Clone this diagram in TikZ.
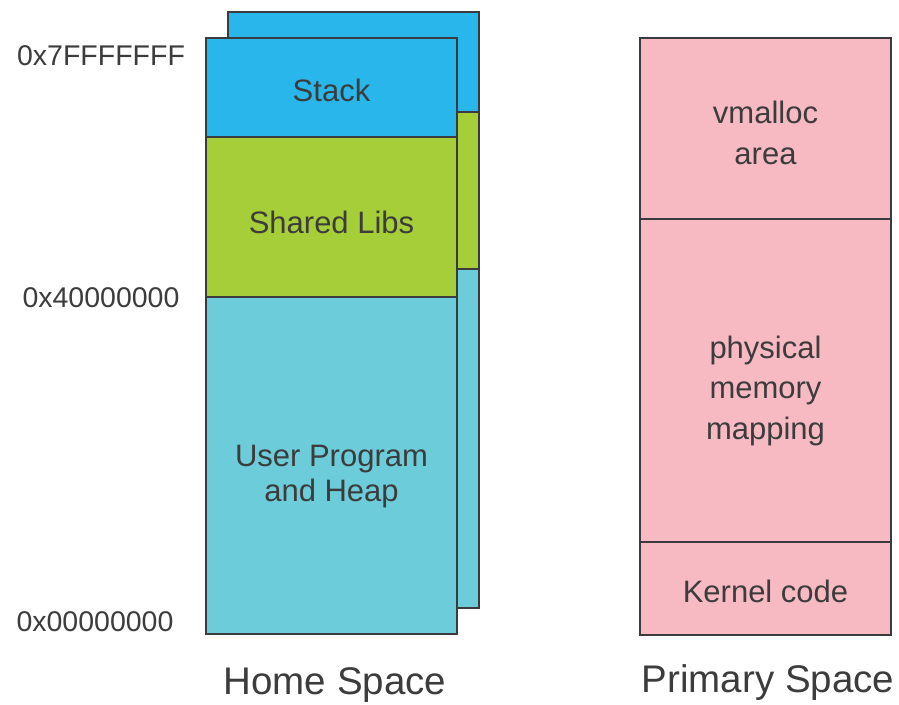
\documentclass[tikz,border=0pt]{standalone}
\usepackage{fontspec}
\setmainfont{Liberation Sans}
\usetikzlibrary{positioning}
\definecolor{StackClr}{HTML}{29B6EA}
\definecolor{LibClr}{HTML}{A6CE39}
\definecolor{HeapClr}{HTML}{6CCCDA}
\definecolor{KernClr}{HTML}{F7BAC2}
\definecolor{EdgeClr}{HTML}{3A3A3F}
\definecolor{TextClr}{HTML}{3C3C3C}

\begin{document}
\begin{tikzpicture}[x=1pt,y=-1pt,
  seg/.style={draw=EdgeClr,line width=2.6pt,outer sep=0pt,inner sep=0pt,
    minimum width=251pt},
  segtxt/.style={text=TextClr,align=center,inner sep=0pt,
    font=\fontsize{31}{35}\selectfont},
  addr/.style={text=TextClr,font=\fontsize{28.5}{30}\selectfont},
  title/.style={text=TextClr,font=\fontsize{38.5}{40}\selectfont}]
\useasboundingbox (0,0) rectangle (899,704);

% back copy of the home space
\node[seg,fill=StackClr,minimum height=100pt,anchor=north west] (bstack) at (228,12) {};
\node[seg,fill=LibClr,minimum height=157pt,below=0pt of bstack] (blibs) {};
\node[seg,fill=HeapClr,minimum height=339pt,below=0pt of blibs] (bheap) {};

% front copy
\node[seg,fill=StackClr,minimum height=99pt,anchor=north west] (stack) at (206,38) {};
\node[seg,fill=LibClr,minimum height=160pt,below=0pt of stack] (libs) {};
\node[seg,fill=HeapClr,minimum height=337pt,below=0pt of libs] (heap) {};
\node[segtxt] (stackTxt) at ([yshift=-3pt]stack.center) {Stack};
\node[segtxt] (libsTxt) at ([yshift=-5pt]libs.center) {Shared Libs};
\node[segtxt] (heapTxt) at ([yshift=-11pt]heap.center) {User Program\\and Heap};

% primary space
\node[seg,fill=KernClr,minimum height=181pt,anchor=north west] (vmalloc) at (640,38) {};
\node[seg,fill=KernClr,minimum height=323pt,below=0pt of vmalloc] (physmem) {};
\node[seg,fill=KernClr,minimum height=93pt,below=0pt of physmem] (kcode) {};
\node[segtxt,font=\fontsize{31}{41}\selectfont] (vmallocTxt) at ([yshift=-4pt]vmalloc.center) {vmalloc\\area};
\node[segtxt,font=\fontsize{31}{40.5}\selectfont] (physmemTxt) at ([yshift=-10pt]physmem.center) {physical\\memory\\mapping};
\node[segtxt] (kcodeTxt) at ([yshift=-3pt]kcode.center) {Kernel code};

% addresses
\node[addr] (addrTop) at (101,56) {0x7FFFFFFF};
\node[addr] (addrMid) at (101,298) {0x40000000};
\node[addr] (addrLow) at (95,622) {0x00000000};

\node[title] (home) at (335,685) {Home Space};
\node[title] (primary) at (768,683) {Primary Space};
\end{tikzpicture}
\end{document}
